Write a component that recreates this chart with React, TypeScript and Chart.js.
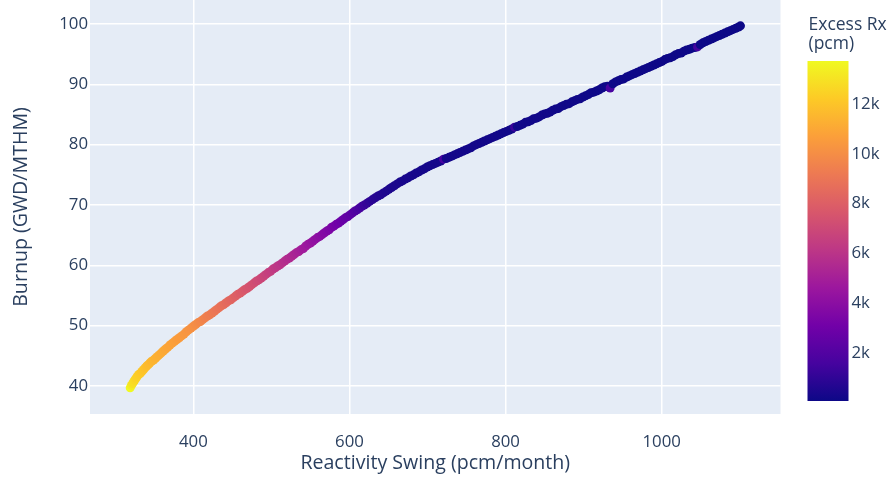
import React, { useEffect, useRef } from "react";
import { Chart, registerables } from "chart.js";

Chart.register(...registerables);

// Reactivity swing (pcm/month) for each depletion step
const swing = [
  319, 320.5, 322, 323.5, 325, 326.5, 328, 330, 332, 334, 336, 338, 340, 342, 344, 346.5, 349, 351.5,
  354, 356.5, 359, 361.5, 364, 367, 370, 373, 376, 379, 382, 385, 388, 391, 394, 397, 400,
  403, 406, 409, 412, 415, 418, 421, 424, 427, 430,
  433, 436, 439, 442, 445, 448, 451, 454, 457, 460,
  463, 466, 469, 472, 475, 478, 481, 484, 487, 490,
  493, 496, 499, 502, 505, 508, 511, 514, 517, 520,
  523, 526, 529, 532, 535, 538, 541, 544, 547, 550,
  553, 556, 559, 562, 565, 568, 571, 574, 577, 580,
  583, 586, 589, 592, 595, 598, 601, 604, 607, 610,
  613, 616, 619,
  622.5, 626, 629.5, 633, 636.5, 640, 643.5, 647, 650.5, 654,
  657.5, 661, 664.5, 668, 671.5, 675, 678.5, 682, 685.5, 689,
  692.5, 696, 699.5, 703, 706.5, 710, 713.5, 717, 720.5, 724,
  727.5, 731, 734.5, 738, 741.5, 745, 748.5, 752, 755.5, 759,
  762.5, 766, 769.5, 773, 776.5, 780, 783.5, 787, 790.5, 794,
  797.5, 801,
  804.5, 808, 811.5, 815, 818.5, 822, 825.5, 829, 832.5, 836,
  839.5, 843, 846.5, 850, 853.5, 857, 860.5, 864, 867.5, 871,
  874.5, 878, 881.5, 885, 888.5, 892, 895.5, 899, 902.5, 906,
  909.5, 913, 916.5, 920, 923.5, 927, 930.5, 934, 937.5, 941,
  944.5, 948, 951.5, 955, 958.5, 962, 965.5, 969, 972.5, 976,
  979.5, 983, 986.5, 990, 993.5, 997, 1000.5, 1004, 1007.5, 1011,
  1014.5, 1018, 1021.5, 1025, 1028.5, 1032, 1035.5, 1039, 1042.5, 1046,
  1049.5, 1053, 1056.5, 1060, 1063.5, 1067, 1070.5, 1074, 1077.5, 1081,
  1084.5, 1088, 1091.5, 1095, 1098.5, 1101,
];

// Burnup (GWD/MTHM) at each step
const burnup = [
  39.7, 40.1, 40.4, 40.7, 41.0, 41.3, 41.6, 41.9, 42.1, 42.4, 42.7, 43.0, 43.3, 43.5, 43.8, 44.1, 44.3, 44.6,
  44.9, 45.2, 45.5, 45.8, 46.1, 46.4, 46.8, 47.1, 47.4, 47.7, 48.0, 48.3, 48.6, 49.0, 49.3, 49.6, 49.9,
  50.2, 50.5, 50.7, 51.0, 51.3, 51.6, 51.8, 52.1, 52.4, 52.7,
  53.0, 53.3, 53.5, 53.8, 54.1, 54.3, 54.6, 54.9, 55.2, 55.4,
  55.7, 56.0, 56.2, 56.5, 56.8, 57.1, 57.4, 57.6, 57.9, 58.2,
  58.5, 58.8, 59.0, 59.4, 59.6, 59.9, 60.1, 60.4, 60.7, 61.0,
  61.2, 61.5, 61.8, 62.1, 62.3, 62.6, 62.8, 63.2, 63.5, 63.7,
  64.0, 64.3, 64.6, 64.8, 65.1, 65.4, 65.7, 65.9, 66.3, 66.5,
  66.8, 67.0, 67.3, 67.6, 67.9, 68.1, 68.4, 68.7, 69.0, 69.2,
  69.5, 69.8, 70.0,
  70.3, 70.6, 70.9, 71.2, 71.5, 71.7, 72.0, 72.3, 72.6, 72.9,
  73.2, 73.5, 73.8, 74.0, 74.3, 74.5, 74.8, 75.0, 75.3, 75.5,
  75.8, 76.0, 76.3, 76.5, 76.7, 76.9, 77.1, 77.3, 77.6, 77.7,
  77.9, 78.1, 78.3, 78.5, 78.7, 78.9, 79.1, 79.3, 79.5, 79.8,
  80.0, 80.2, 80.4, 80.6, 80.8, 81.0, 81.2, 81.4, 81.6, 81.8,
  82.0, 82.2,
  82.4, 82.6, 82.9, 83.0, 83.2, 83.4, 83.7, 83.8, 84.0, 84.3,
  84.4, 84.6, 84.9, 85.1, 85.2, 85.4, 85.7, 85.9, 86.0, 86.3,
  86.5, 86.7, 86.8, 87.1, 87.3, 87.5, 87.6, 87.9, 88.1, 88.3,
  88.6, 88.7, 88.9, 89.1, 89.4, 89.6, 89.7, 89.4, 90.1, 90.4,
  90.6, 90.8, 90.9, 91.2, 91.4, 91.6, 91.8, 92.0, 92.2, 92.4,
  92.6, 92.8, 93.0, 93.2, 93.4, 93.6, 93.8, 94.1, 94.3, 94.4,
  94.6, 94.9, 95.1, 95.2, 95.5, 95.7, 95.8, 96.0, 96.1, 96.2,
  96.6, 96.9, 97.1, 97.3, 97.5, 97.7, 97.9, 98.1, 98.3, 98.5,
  98.7, 98.9, 99.1, 99.3, 99.5, 99.7,
];

// Excess reactivity (pcm) used for the marker colour
const excessRx = [
  13730, 13300, 13000, 12850, 12700, 12550, 12400, 12300, 12200, 12100, 12000, 11900, 11800, 11700, 11600, 11520, 11450, 11380,
  11300, 11220, 11150, 11080, 11000, 10920, 10850, 10780, 10700, 10620, 10550, 10480, 10400, 10320, 10250, 10170, 10100,
  9990, 9880, 9760, 9660, 9550, 9430, 9330, 9220, 9120, 9000,
  8890, 8790, 8670, 8560, 8450, 8330, 8230, 8120, 8010, 7900,
  7790, 7690, 7570, 7460, 7350, 7240, 7120, 7020, 6910, 6800,
  6690, 6580, 6470, 6360, 6250, 6150, 6030, 5910, 5790, 5670,
  5550, 5430, 5310, 5190, 5070, 4950, 4830, 4710, 4590, 4470,
  4350, 4230, 4110, 3990, 3870, 3750, 3630, 3510, 3390, 3270,
  3150, 3030, 2910, 2790, 2670, 2550, 2380, 2200, 2030, 1850,
  1680, 1500, 1330,
  1150, 1000, 880, 780, 700, 640, 590, 550, 510, 480,
  450, 430, 410, 390, 375, 360, 345, 335, 325, 315,
  305, 300, 295, 290, 285, 280, 275, 270, 1700, 265,
  260, 255, 250, 248, 246, 244, 242, 240, 238, 236,
  234, 232, 230, 228, 226, 224, 222, 220, 218, 216,
  214, 212,
  205, 200, 1300, 195, 195, 190, 190, 185, 185, 180,
  180, 175, 175, 170, 170, 165, 165, 160, 160, 155,
  155, 150, 150, 150, 145, 145, 140, 140, 135, 135,
  130, 130, 130, 125, 125, 120, 120, 1700, 120, 115,
  115, 115, 110, 110, 110, 105, 105, 105, 100, 100,
  100, 100, 95, 95, 95, 95, 90, 90, 90, 90,
  90, 85, 85, 85, 85, 85, 80, 80, 80, 1500,
  80, 80, 78, 78, 76, 76, 75, 75, 74, 74,
  73, 72, 72, 71, 71, 70,
];

const xTicks = [400, 600, 800, 1000];
const yTicks = [40, 50, 60, 70, 80, 90, 100];
const colorbarTicks = [2000, 4000, 6000, 8000, 10000, 12000];

const PLASMA = [
  "#0d0887", "#46039f", "#7201a8", "#9c179e", "#bd3786",
  "#d8576b", "#ed7953", "#fb9f3a", "#fdca26", "#f0f921",
];

const FONT = "'Open Sans', sans-serif";
const INK = "#2a3f5f";
const PLOT_BG = "#E5ECF6";

const cMin = Math.min(...excessRx);
const cMax = Math.max(...excessRx);

function hexToRgb(h: string): number[] {
  const n = parseInt(h.slice(1), 16);
  return [(n >> 16) & 255, (n >> 8) & 255, n & 255];
}

function plasma(t: number): string {
  const c = Math.max(0, Math.min(1, t)) * (PLASMA.length - 1);
  const i = Math.min(Math.floor(c), PLASMA.length - 2);
  const f = c - i;
  const a = hexToRgb(PLASMA[i]);
  const b = hexToRgb(PLASMA[i + 1]);
  const m = a.map((v, k) => Math.round(v + (b[k] - v) * f));
  return `rgb(${m[0]},${m[1]},${m[2]})`;
}

const colorFor = (v: number) => plasma((v - cMin) / (cMax - cMin));

// Fill the plotting area before grid lines are drawn
const plotBackground = {
  id: "plotBackground",
  beforeDraw(chart: any) {
    const { ctx, chartArea } = chart;
    ctx.save();
    ctx.fillStyle = PLOT_BG;
    ctx.fillRect(chartArea.left, chartArea.top, chartArea.right - chartArea.left, chartArea.bottom - chartArea.top);
    ctx.restore();
  },
};

// Vertical colour bar for the excess reactivity scale
const colorBar = {
  id: "colorBar",
  afterDraw(chart: any) {
    const { ctx, chartArea } = chart;
    const left = chartArea.right + 27;
    const width = 41;
    const top = chartArea.top + 61;
    const bottom = chartArea.bottom - 13;
    const toPx = (v: number) => bottom - ((v - cMin) / (cMax - cMin)) * (bottom - top);

    ctx.save();
    const grad = ctx.createLinearGradient(0, bottom, 0, top);
    PLASMA.forEach((c, i) => grad.addColorStop(i / (PLASMA.length - 1), c));
    ctx.fillStyle = grad;
    ctx.fillRect(left, top, width, bottom - top);

    ctx.fillStyle = INK;
    ctx.font = `16.8px ${FONT}`;
    ctx.textAlign = "left";
    ctx.textBaseline = "middle";
    colorbarTicks.forEach((v) => {
      ctx.fillText(`${v / 1000}k`, left + width + 3, toPx(v));
    });

    ctx.font = `17.5px ${FONT}`;
    ctx.textBaseline = "alphabetic";
    ctx.fillText("Excess Rx", left + 1, chartArea.top + 30);
    ctx.fillText("(pcm)", left + 1, chartArea.top + 49);
    ctx.restore();
  },
};

export default function App() {
  const canvasRef = useRef<HTMLCanvasElement | null>(null);

  useEffect(() => {
    const canvas = canvasRef.current;
    if (!canvas) return;

    const points = swing.map((x, i) => ({ x, y: burnup[i] }));

    const tickFont = { family: FONT, size: 16.8 };
    const titleFont = { family: FONT, size: 19.6 };

    const chart = new Chart(canvas, {
      type: "scatter",
      data: {
        datasets: [
          {
            label: "Excess Rx",
            data: points,
            pointRadius: 4.5,
            pointBorderWidth: 0,
            borderWidth: 0,
            backgroundColor: (c: any) => colorFor(excessRx[c.dataIndex] ?? cMin),
            pointBackgroundColor: (c: any) => colorFor(excessRx[c.dataIndex] ?? cMin),
          },
        ],
      },
      options: {
        animation: false,
        responsive: false,
        devicePixelRatio: 1,
        events: [],
        layout: { autoPadding: false, padding: { left: 0, right: 111.5, top: 0, bottom: 0 } },
        plugins: {
          legend: { display: false },
          tooltip: { enabled: false },
        },
        scales: {
          x: {
            type: "linear",
            min: 267.5,
            max: 1152.3,
            border: { display: false },
            grid: { color: "#ffffff", lineWidth: 1.5, drawTicks: false },
            afterBuildTicks: (scale: any) => {
              scale.ticks = xTicks.map((value) => ({ value }));
            },
            afterFit: (scale: any) => {
              scale.height = 69;
              scale.paddingLeft = 0;
              scale.paddingRight = 0;
            },
            ticks: {
              color: INK,
              font: tickFont,
              padding: 18,
              maxRotation: 0,
              callback: (v: any) => String(v),
            },
            title: {
              display: true,
              text: "Reactivity Swing (pcm/month)",
              color: INK,
              font: titleFont,
              padding: { top: 0, bottom: 8 },
            },
          },
          y: {
            type: "linear",
            min: 35.36,
            max: 103.98,
            border: { display: false },
            grid: { color: "#ffffff", lineWidth: 1.5, drawTicks: false },
            afterBuildTicks: (scale: any) => {
              scale.ticks = yTicks.map((value) => ({ value }));
            },
            afterFit: (scale: any) => {
              scale.width = 90;
              scale.paddingTop = 0;
              scale.paddingBottom = 0;
            },
            ticks: {
              color: INK,
              font: tickFont,
              padding: 2,
              callback: (v: any) => String(v),
            },
            title: {
              display: true,
              text: "Burnup (GWD/MTHM)",
              color: INK,
              font: titleFont,
              padding: { top: 10, bottom: 0 },
            },
          },
        },
      },
      plugins: [plotBackground, colorBar],
    } as any);

    return () => chart.destroy();
  }, []);

  return (
    <div style={{ position: "absolute", left: 0, top: 0, width: 892, height: 483, background: "#ffffff" }}>
      <canvas ref={canvasRef} width={892} height={483} style={{ display: "block", width: 892, height: 483 }} />
    </div>
  );
}
